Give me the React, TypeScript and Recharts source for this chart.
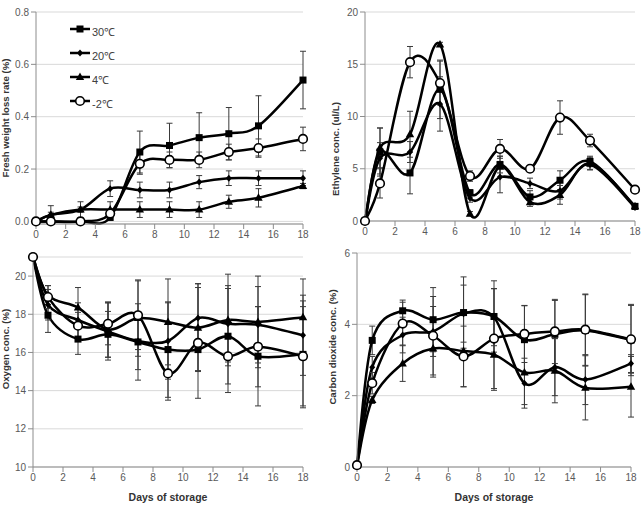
import React from 'react';
import { LineChart, Line, XAxis, YAxis, CartesianGrid, ErrorBar, Legend } from 'recharts';

const days = [0, 1, 3, 5, 7, 9, 11, 13, 15, 18];
const dayTicks = [0, 2, 4, 6, 8, 10, 12, 14, 16, 18];
const seriesNames = ['30℃', '20℃', '4℃', '-2℃'];
const markerKinds = ['square', 'diamond', 'triangle', 'circle'];

// fresh weight loss rate (%)
const weight30 = [0, 0, 0, 0.015, 0.265, 0.29, 0.32, 0.335, 0.365, 0.54];
const weight30Err = [0, 0, 0, 0, 0.08, 0.085, 0.095, 0.1, 0.115, 0.11];
const weight20 = [0, 0.025, 0.045, 0.125, 0.12, 0.12, 0.15, 0.165, 0.165, 0.165];
const weight20Err = [0, 0.035, 0.03, 0.03, 0.03, 0.03, 0.025, 0.028, 0.028, 0.028];
const weight4 = [0, 0.025, 0.045, 0.045, 0.045, 0.045, 0.045, 0.075, 0.09, 0.135];
const weight4Err = [0, 0.01, 0.01, 0.03, 0.03, 0.03, 0.03, 0.025, 0.035, 0.01];
const weightM2 = [0, 0, 0, 0.03, 0.22, 0.235, 0.235, 0.265, 0.28, 0.315];
const weightM2Err = [0, 0, 0, 0.01, 0.04, 0.03, 0.03, 0.03, 0.035, 0.045];

// ethylene (ul/L)
const eth30 = [0, 6.6, 4.6, 12.6, 2.7, 5.4, 2.3, 3.9, 5.7, 1.4];
const eth30Err = [0, 2.3, 2.0, 2.8, 0.3, 0.8, 0.6, 0.9, 0.5, 0.2];
const eth20 = [0, 6.0, 6.6, 11.2, 2.2, 4.2, 3.6, 2.9, 5.4, 1.3];
const eth20Err = [0, 1.5, 1.0, 2.6, 0.4, 1.5, 0.5, 0.8, 0.5, 0.2];
const eth4 = [0, 7.0, 8.3, 16.9, 0.7, 5.2, 1.8, 2.5, 5.5, 1.4];
const eth4Err = [0, 1.9, 2.2, 0.2, 0.2, 1.0, 0.4, 0.9, 0.6, 0.2];
const ethM2 = [0, 3.6, 15.2, 13.2, 4.3, 6.9, 5.0, 9.9, 7.7, 3.0];
const ethM2Err = [0, 1.4, 1.5, 2.1, 0.5, 0.9, 0.3, 1.6, 0.6, 0.2];

// oxygen (%)
const oxy30 = [21, 17.95, 16.7, 16.95, 16.55, 16.15, 16.15, 16.85, 15.8, 15.9];
const oxy30Err = [0, 0.9, 0.8, 1.2, 2.0, 2.5, 1.1, 2.5, 2.6, 2.8];
const oxy20 = [21, 18.5, 17.7, 17.1, 16.6, 16.6, 17.8, 17.5, 17.45, 16.9];
const oxy20Err = [0, 0.8, 0.9, 1.5, 1.5, 2.0, 1.8, 2.0, 2.0, 2.1];
const oxy4 = [21, 19.0, 18.35, 17.2, 17.8, 17.6, 17.3, 17.7, 17.6, 17.85];
const oxy4Err = [0, 0.5, 1.05, 1.45, 2.0, 2.25, 2.3, 2.4, 2.4, 2.0];
const oxyM2 = [21, 18.9, 17.4, 17.5, 17.95, 14.9, 16.5, 15.8, 16.3, 15.8];
const oxyM2Err = [0, 0.6, 0.7, 1.1, 1.8, 1.4, 2.9, 1.9, 2.1, 2.6];

// carbon dioxide (%)
const co30 = [0.05, 3.55, 4.38, 4.13, 4.33, 4.22, 3.57, 3.72, 3.83, 3.56];
const co30Err = [0, 0.4, 0.3, 0.9, 1.0, 1.0, 0.95, 0.95, 1.0, 1.0];
const co20 = [0.05, 2.8, 3.7, 3.8, 4.3, 4.2, 2.35, 2.8, 2.45, 2.9];
const co20Err = [0, 0.3, 0.5, 0.7, 0.8, 0.8, 0.7, 0.8, 0.7, 0.25];
const co4 = [0.05, 1.88, 2.9, 3.32, 3.25, 3.15, 2.65, 2.7, 2.22, 2.25];
const co4Err = [0, 0.1, 0.5, 0.8, 1.0, 1.0, 0.9, 0.9, 0.9, 0.85];
const coM2 = [0.05, 2.35, 4.02, 3.68, 3.1, 3.6, 3.73, 3.8, 3.85, 3.58];
const coM2Err = [0, 0.3, 0.6, 1.1, 0.85, 1.4, 0.8, 0.9, 1.0, 0.95];

const buildRows = (vals: number[][], errs: number[][]) =>
  days.map((day, i) => {
    const row: any = { day };
    vals.forEach((v, k) => {
      row['s' + k] = v[i];
      row['e' + k] = errs[k][i];
    });
    return row;
  });

// Excel-like smoothed line (Catmull-Rom through the points)
const smoothCurve = (context: any) => {
  let pts: number[][] = [];
  return {
    areaStart() {},
    areaEnd() {},
    lineStart() {
      pts = [];
    },
    point(x: number, y: number) {
      pts.push([+x, +y]);
    },
    lineEnd() {
      if (!pts.length) return;
      context.moveTo(pts[0][0], pts[0][1]);
      for (let i = 0; i < pts.length - 1; i++) {
        const p0 = pts[i - 1] || pts[i];
        const p1 = pts[i];
        const p2 = pts[i + 1];
        const p3 = pts[i + 2] || p2;
        context.bezierCurveTo(
          p1[0] + (p2[0] - p0[0]) / 6,
          p1[1] + (p2[1] - p0[1]) / 6,
          p2[0] - (p3[0] - p1[0]) / 6,
          p2[1] - (p3[1] - p1[1]) / 6,
          p2[0],
          p2[1]
        );
      }
    },
  };
};

const marker = (kind: string, cx: number, cy: number, key: string) => {
  if (kind === 'square') return <rect key={key} x={cx - 3.5} y={cy - 3.5} width={7} height={7} fill="#000" />;
  if (kind === 'diamond')
    return <polygon key={key} points={`${cx},${cy - 3.5} ${cx + 3},${cy} ${cx},${cy + 3.5} ${cx - 3},${cy}`} fill="#000" />;
  if (kind === 'triangle')
    return <polygon key={key} points={`${cx},${cy - 4.5} ${cx + 4.2},${cy + 3} ${cx - 4.2},${cy + 3}`} fill="#000" />;
  return <circle key={key} cx={cx} cy={cy} r={4.3} fill="#fff" stroke="#000" strokeWidth={1.6} />;
};

const tickStyle = { fontSize: 10, fill: '#595959' };
const axisStroke = '#8c8c8c';

const LegendBox = () => (
  <div style={{ fontSize: 11, color: '#404040' }}>
    {seriesNames.map((name, k) => (
      <div key={name} style={{ display: 'flex', alignItems: 'center', height: 24 }}>
        <svg width={22} height={12}>
          <line x1={1} y1={6} x2={21} y2={6} stroke="#000" strokeWidth={2.5} />
          {marker(markerKinds[k], 11, 6, 'lg' + k)}
        </svg>
        <span style={{ marginLeft: 1, marginTop: 4 }}>{name}</span>
      </div>
    ))}
  </div>
);

const renderPanel = (p: any) => {
  const rows = buildRows(p.vals, p.errs);
  return (
    <div key={p.id} style={{ position: 'absolute', left: p.left, top: p.top }}>
      <LineChart width={p.width} height={p.height} data={rows} margin={p.margin}>
        <CartesianGrid vertical={false} stroke="#d9d9d9" />
        <XAxis
          dataKey="day"
          type="number"
          domain={[0, 18]}
          ticks={dayTicks}
          interval={0}
          height={p.xHeight}
          tick={tickStyle}
          tickSize={5}
          stroke={axisStroke}
          label={
            p.xLabel
              ? { value: p.xLabel, position: 'insideBottom', offset: 2, fill: '#333', fontSize: 10.5, fontWeight: 'bold' }
              : undefined
          }
        />
        <YAxis
          type="number"
          domain={p.domain}
          ticks={p.ticks}
          interval={0}
          width={p.yWidth}
          tick={tickStyle}
          tickSize={5}
          stroke={axisStroke}
          tickFormatter={p.fmt}
          label={() => (
            <text
              x={p.labelX}
              y={p.labelY}
              transform={`rotate(-90 ${p.labelX} ${p.labelY})`}
              textAnchor="middle"
              dominantBaseline="central"
              fontSize={9.6}
              fontWeight="bold"
              fill="#333"
            >
              {p.yLabel}
            </text>
          )}
        />
        {p.legend && (
          <Legend
            layout="vertical"
            align="center"
            verticalAlign="middle"
            content={() => <LegendBox />}
            wrapperStyle={{ left: 69, top: 17, width: 70, height: 100 }}
          />
        )}
        {markerKinds.map((kind, k) => (
          <Line
            key={kind}
            name={seriesNames[k]}
            dataKey={'s' + k}
            type={smoothCurve as any}
            stroke="#000"
            strokeWidth={2.5}
            isAnimationActive={false}
            dot={(d: any) =>
              d.cx == null ? <g key={kind + d.index} /> : marker(kind, d.cx, d.cy, kind + '-' + d.index)
            }
            activeDot={false}
          >
            <ErrorBar dataKey={'e' + k} width={3} stroke="#3a3a3a" strokeWidth={1} direction="y" />
          </Line>
        ))}
      </LineChart>
    </div>
  );
};

const panels = [
  {
    id: 'weight', left: 0, top: 0, width: 320, height: 250,
    margin: { top: 12, right: 17, left: 0, bottom: 6 }, yWidth: 36, xHeight: 20,
    domain: [0, 0.8], ticks: [0, 0.2, 0.4, 0.6, 0.8], fmt: (v: number) => v.toFixed(1),
    vals: [weight30, weight20, weight4, weightM2], errs: [weight30Err, weight20Err, weight4Err, weightM2Err],
    yLabel: 'Fresh weight loss rate (%)', labelX: 5, labelY: 118, legend: true,
  },
  {
    id: 'ethylene', left: 320, top: 0, width: 323, height: 250,
    margin: { top: 12, right: 8, left: 0, bottom: 9 }, yWidth: 45, xHeight: 20,
    domain: [0, 20], ticks: [0, 5, 10, 15, 20],
    vals: [eth30, eth20, eth4, ethM2], errs: [eth30Err, eth20Err, eth4Err, ethM2Err],
    yLabel: 'Ethylene conc. (ul/L)', labelX: 15, labelY: 149,
  },
  {
    id: 'oxygen', left: 0, top: 240, width: 320, height: 268,
    margin: { top: 17, right: 17, left: 0, bottom: 5 }, yWidth: 33, xHeight: 36,
    domain: [10, 21], ticks: [10, 12, 14, 16, 18, 20],
    vals: [oxy30, oxy20, oxy4, oxyM2], errs: [oxy30Err, oxy20Err, oxy4Err, oxyM2Err],
    yLabel: 'Oxygen conc. (%)', labelX: 5, labelY: 109, xLabel: 'Days of storage',
  },
  {
    id: 'co2', left: 320, top: 240, width: 323, height: 268,
    margin: { top: 13, right: 12, left: 0, bottom: 5 }, yWidth: 37, xHeight: 36,
    domain: [0, 6], ticks: [0, 2, 4, 6],
    vals: [co30, co20, co4, coM2], errs: [co30Err, co20Err, co4Err, coM2Err],
    yLabel: 'Carbon dioxide conc. (%)', labelX: 12, labelY: 107, xLabel: 'Days of storage',
  },
];

export default function App() {
  return (
    <div
      style={{
        position: 'absolute',
        left: 0,
        top: 0,
        width: 643,
        height: 508,
        background: '#fff',
        fontFamily: '"Liberation Sans", Arial, sans-serif',
        overflow: 'hidden',
      }}
    >
      {panels.map(renderPanel)}
    </div>
  );
}
